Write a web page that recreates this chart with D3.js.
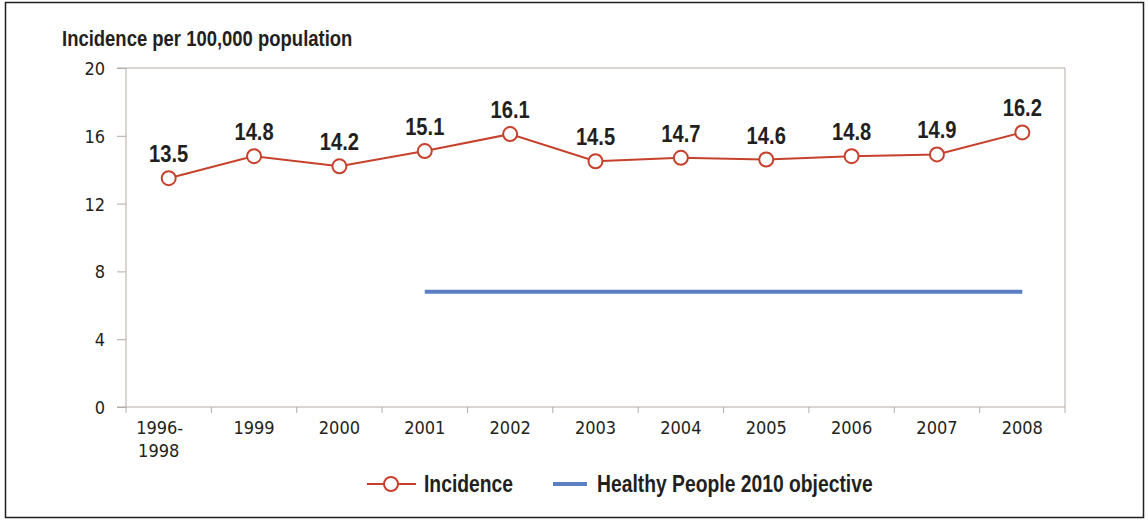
<!DOCTYPE html>
<html>
<head>
<meta charset="utf-8">
<script src="https://cdn.jsdelivr.net/npm/d3@7"></script>
<style>
  body { margin: 0; background: #fff; }
  svg { display: block; }
  text { font-family: "DejaVu Sans Condensed", sans-serif; fill: #231f20; }
  .bold { font-family: "Liberation Sans", Arial, sans-serif; font-weight: bold; }
  .axis path, .axis line { stroke: #b3aca6; }
</style>
</head>
<body>
<div id="chart"></div>
<script>
// values
const years = ['1996-1998', '1999', '2000', '2001', '2002', '2003', '2004', '2005', '2006', '2007', '2008'];
const incidence = [13.5, 14.8, 14.2, 15.1, 16.1, 14.5, 14.7, 14.6, 14.8, 14.9, 16.2];
const objective = 6.8;
const objectiveYears = ['2001', '2008'];
const yTicks = [0, 4, 8, 12, 16, 20];

const width = 1148, height = 520;
const margin = { top: 68, right: 83, bottom: 113, left: 126 };
const red = '#c6412c', blue = '#5a7fc2';
const narrow = 0.84; // squeeze bold text to look like a condensed face

const svg = d3.select('#chart').append('svg')
    .attr('width', width)
    .attr('height', height);

// outer frame
svg.append('rect')
    .attr('x', 5.5).attr('y', 2.5)
    .attr('width', 1138).attr('height', 515)
    .attr('fill', 'none')
    .attr('stroke', '#231f20')
    .attr('stroke-width', 1.5);

const x = d3.scaleBand().domain(years).range([margin.left, width - margin.right]);
const y = d3.scaleLinear().domain([0, 20]).range([height - margin.bottom, margin.top]);
const cx = d => x(d) + x.bandwidth() / 2;
const at = (px, py) => `translate(${px},${py}) scale(${narrow},1)`;

// plot frame top + right
svg.append('path')
    .attr('d', `M${margin.left - 9},${y(20)}H${width - margin.right}V${y(0) + 6}`)
    .attr('fill', 'none')
    .attr('stroke', '#b3aca6');

// y axis
const yAxis = svg.append('g')
    .attr('class', 'axis')
    .attr('transform', `translate(${margin.left},0)`)
    .call(d3.axisLeft(y).tickValues(yTicks).tickSize(9).tickSizeOuter(0));
yAxis.select('.domain').remove();
yAxis.append('line').attr('y1', y(0)).attr('y2', y(20)).attr('stroke', '#b3aca6');
yAxis.selectAll('.tick text')
    .attr('x', -21)
    .attr('dy', '0.36em')
    .style('font-size', '18px')
    .style('fill', '#231f20');

// x axis
const xAxis = svg.append('g')
    .attr('class', 'axis')
    .attr('transform', `translate(0,${y(0)})`)
    .call(d3.axisBottom(x).tickSize(0).tickFormat(''));
xAxis.select('.domain').attr('d', `M${margin.left - 9},0H${width - margin.right}`);

// tick marks on band edges
svg.append('g').selectAll('line')
    .data(years)
  .enter().append('line')
    .attr('x1', d => x(d)).attr('x2', d => x(d))
    .attr('y1', y(0)).attr('y2', y(0) + 6)
    .attr('stroke', '#b3aca6');

svg.append('g').selectAll('text')
    .data(years)
  .enter().append('text')
    .attr('text-anchor', 'middle')
    .attr('y', y(0) + 27)
    .style('font-size', '18px')
    .each(function(d) {
      const parts = d.split('-');
      const t = d3.select(this);
      if (parts.length > 1) {
        t.append('tspan').attr('x', cx(d) - 9).text(parts[0] + '-');
        t.append('tspan').attr('x', cx(d) - 10).attr('dy', 23).text(parts[1]);
      } else {
        t.attr('x', cx(d)).text(d);
      }
    });

// axis title
svg.append('text')
    .attr('class', 'bold')
    .attr('transform', at(62, 46))
    .style('font-size', '22px')
    .text('Incidence per 100,000 population');

// objective line
svg.append('line')
    .attr('x1', cx(objectiveYears[0])).attr('x2', cx(objectiveYears[1]))
    .attr('y1', y(objective)).attr('y2', y(objective))
    .attr('stroke', blue)
    .attr('stroke-width', 4);

// incidence line
const pts = years.map((d, i) => ({ year: d, value: incidence[i] }));
svg.append('path')
    .datum(pts)
    .attr('fill', 'none')
    .attr('stroke', red)
    .attr('stroke-width', 2)
    .attr('d', d3.line().x(d => cx(d.year)).y(d => y(d.value)));

svg.selectAll('.dot')
    .data(pts)
  .enter().append('circle')
    .attr('class', 'dot')
    .attr('cx', d => cx(d.year))
    .attr('cy', d => y(d.value))
    .attr('r', 7)
    .attr('fill', '#fff')
    .attr('stroke', red)
    .attr('stroke-width', 2);

svg.selectAll('.val')
    .data(pts)
  .enter().append('text')
    .attr('class', 'val bold')
    .attr('transform', d => at(cx(d.year), y(d.value) - 16))
    .attr('text-anchor', 'middle')
    .style('font-size', '24px')
    .text(d => d.value.toFixed(1));

// legend
const lg = svg.append('g').attr('transform', 'translate(0,484)');
lg.append('line').attr('x1', 367).attr('x2', 416).attr('stroke', red).attr('stroke-width', 2);
lg.append('circle').attr('cx', 391).attr('r', 7).attr('fill', '#fff').attr('stroke', red).attr('stroke-width', 2);
lg.append('text').attr('class', 'bold').attr('transform', at(424, 8)).style('font-size', '23px').text('Incidence');
lg.append('line').attr('x1', 553).attr('x2', 587).attr('stroke', blue).attr('stroke-width', 4);
lg.append('text').attr('class', 'bold').attr('transform', at(597, 8)).style('font-size', '23px').text('Healthy People 2010 objective');
</script>
</body>
</html>
